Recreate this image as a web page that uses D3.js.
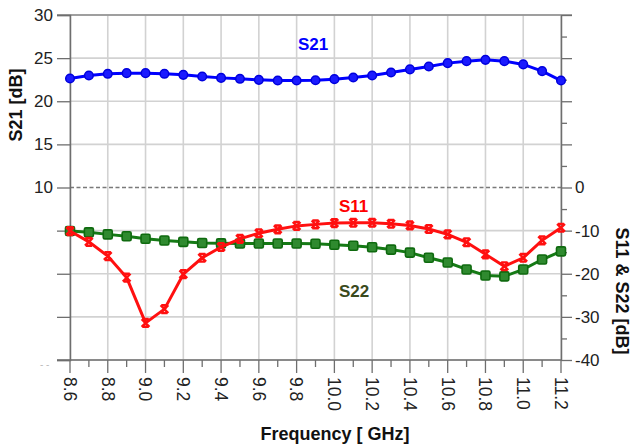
<!DOCTYPE html>
<html>
<head>
<meta charset="utf-8">
<script src="https://cdn.jsdelivr.net/npm/d3@7"></script>
<style>
  html, body { margin: 0; padding: 0; background: #fff; }
  svg { display: block; font-family: "Liberation Sans", Arial, sans-serif; }
</style>
</head>
<body>
<svg id="chart" width="631" height="448"></svg>
<script>
const freq = [8.6,8.7,8.8,8.9,9.0,9.1,9.2,9.3,9.4,9.5,9.6,9.7,9.8,9.9,10.0,10.1,10.2,10.3,10.4,10.5,10.6,10.7,10.8,10.9,11.0,11.1,11.2];
const s21 = [22.64,22.98,23.18,23.26,23.26,23.18,23.06,22.87,22.71,22.6,22.48,22.4,22.4,22.44,22.56,22.75,22.98,23.33,23.69,24.03,24.42,24.65,24.8,24.65,24.27,23.49,22.4];
const s11 = [-10.1,-12.6,-15.9,-20.9,-31.4,-28.2,-20.1,-16.3,-13.8,-11.9,-10.6,-9.7,-8.9,-8.55,-8.25,-8.17,-8.17,-8.4,-8.79,-9.63,-10.87,-12.7,-15.5,-18.27,-16.3,-12.25,-9.33];
const s22 = [-10.1,-10.4,-10.87,-11.3,-11.87,-12.3,-12.6,-12.87,-12.95,-13.0,-13.0,-13.0,-13.0,-13.05,-13.26,-13.5,-13.87,-14.4,-15.1,-16.3,-17.4,-19.0,-20.4,-20.6,-19.0,-16.7,-14.8];
const xTickLabels = ["8.6","8.8","9.0","9.2","9.4","9.6","9.8","10.0","10.2","10.4","10.6","10.8","11.0","11.2"];
const leftTicks = [-10,-5,0,5,10,15,20,25,30];
const leftLabels = ["","","","","10","15","20","25","30"];
const rightTicks = [-40,-35,-30,-25,-20,-15,-10,-5,0,5,10,15,20,25,30,35,40];
const rightLabels = ["-40","","-30","","-20","","-10","","0","","","","","","","",""];

const svg = d3.select("#chart");
const L = 70, R = 561, T = 15, B = 360;
const x = d3.scaleLinear().domain([8.6, 11.2]).range([L, R]);
const yL = d3.scaleLinear().domain([-10, 30]).range([B, T]);
const yR = d3.scaleLinear().domain([-40, 40]).range([B, T]);

const axisColor = "#6e6e6e";
const gridColor = "#d2d2d2";

// grid
const grid = svg.append("g");
grid.selectAll("line.v").data(xTickLabels.map(Number)).enter().append("line")
  .attr("x1", d => x(d)).attr("x2", d => x(d)).attr("y1", T).attr("y2", B)
  .attr("stroke", gridColor).attr("stroke-width", 1.6);
grid.selectAll("line.h").data(leftTicks.filter(d => d !== 10)).enter().append("line")
  .attr("x1", L).attr("x2", R).attr("y1", d => yL(d)).attr("y2", d => yL(d))
  .attr("stroke", gridColor).attr("stroke-width", 1.6);
// dashed reference line
svg.append("line").attr("x1", L).attr("x2", R).attr("y1", yL(10)).attr("y2", yL(10))
  .attr("stroke", "#7a7a7a").attr("stroke-width", 1.5).attr("stroke-dasharray", "4,2.5");

// top frame
svg.append("line").attr("x1", 57).attr("x2", R + 11).attr("y1", T).attr("y2", T)
  .attr("stroke", "#8a8a8a").attr("stroke-width", 1.5);

// left axis
const gL = svg.append("g").attr("transform", `translate(${L},0)`)
  .call(d3.axisLeft(yL).tickValues(leftTicks).tickSize(13).tickPadding(4)
    .tickFormat((d, i) => leftLabels[i]));
gL.select(".domain").attr("stroke", axisColor).attr("stroke-width", 1.5);
gL.selectAll(".tick line").attr("stroke", axisColor).attr("stroke-width", 1.3);
gL.selectAll(".tick text").attr("fill", "#222").style("font-size", "17px");

// right axis
const gR = svg.append("g").attr("transform", `translate(${R},0)`)
  .call(d3.axisRight(yR).tickValues(rightTicks).tickSize(0).tickPadding(14)
    .tickFormat((d, i) => rightLabels[i]));
gR.select(".domain").attr("stroke", axisColor).attr("stroke-width", 1.5);
gR.selectAll(".tick").append("line").attr("x1", 0)
  .attr("x2", d => (d % 10 === 0 ? 11 : 6)).attr("stroke", axisColor).attr("stroke-width", 1.3);
gR.selectAll(".tick text").attr("fill", "#222").style("font-size", "17px");

// bottom axis
const gB = svg.append("g").attr("transform", `translate(0,${B})`);
gB.append("line").attr("x1", 57).attr("x2", R).attr("y1", 0).attr("y2", 0)
  .attr("stroke", axisColor).attr("stroke-width", 1.5);
gB.selectAll("line.minor").data(freq).enter().append("line")
  .attr("x1", d => x(d)).attr("x2", d => x(d)).attr("y1", 0)
  .attr("y2", (d, i) => (i % 2 === 0 ? 13 : 7))
  .attr("stroke", axisColor).attr("stroke-width", 1.3);
gB.selectAll("text").data(xTickLabels).enter().append("text")
  .attr("transform", d => `translate(${x(+d)},17) rotate(90)`)
  .attr("text-anchor", "start").attr("dy", "0.35em")
  .attr("fill", "#222").style("font-size", "17.5px").text(d => d);

// faint artifact at bottom left
svg.append("text").attr("x", 40).attr("y", 368).attr("fill", "#bbb")
  .style("font-size", "10px").text("- -");

// lines
const lineL = d3.line().x((d, i) => x(freq[i])).y(d => yL(d));
const lineR = d3.line().x((d, i) => x(freq[i])).y(d => yR(d));

svg.append("path").datum(s22).attr("d", lineR).attr("fill", "none")
  .attr("stroke", "#157a15").attr("stroke-width", 3);
svg.selectAll("rect.s22").data(s22).enter().append("rect")
  .attr("x", (d, i) => x(freq[i]) - 4.5).attr("y", d => yR(d) - 4.5)
  .attr("width", 9).attr("height", 9).attr("rx", 1.5)
  .attr("fill", "#2f8a2f").attr("stroke", "#0f6a0f").attr("stroke-width", 1.6);

svg.append("path").datum(s11).attr("d", lineR).attr("fill", "none")
  .attr("stroke", "#ff1010").attr("stroke-width", 3);
const crossSerif = {
  draw(ctx, size) {
    const r = Math.sqrt(size) / 2;
    ctx.moveTo(-r, -r); ctx.lineTo(r, r);
    ctx.moveTo(r, -r); ctx.lineTo(-r, r);
    ctx.moveTo(-r * 0.8, -r); ctx.lineTo(r * 0.8, -r);
    ctx.moveTo(-r * 0.8, r); ctx.lineTo(r * 0.8, r);
  }
};
svg.selectAll("path.s11").data(s11).enter().append("path")
  .attr("d", d3.symbol().type(crossSerif).size(60))
  .attr("transform", (d, i) => `translate(${x(freq[i])},${yR(d)})`)
  .attr("fill", "none").attr("stroke", "#ff1010").attr("stroke-width", 2.4);

svg.append("path").datum(s21).attr("d", lineL).attr("fill", "none")
  .attr("stroke", "#0000ff").attr("stroke-width", 3);
svg.selectAll("circle.s21").data(s21).enter().append("circle")
  .attr("cx", (d, i) => x(freq[i])).attr("cy", d => yL(d)).attr("r", 4.3)
  .attr("fill", "#1a1aff").attr("stroke", "#0000dd").attr("stroke-width", 1.5);

// series labels
const lab = (t, xx, yy, c) => svg.append("text").attr("x", xx).attr("y", yy)
  .attr("fill", c).style("font-size", "17px").style("font-weight", "bold").text(t);
lab("S21", 298, 50, "#0000ff");
lab("S11", 339, 212, "#ff0000");
lab("S22", 339, 297, "#3a4a1c");

// axis titles
svg.append("text").attr("transform", "translate(22,105) rotate(-90)")
  .attr("text-anchor", "middle").style("font-size", "18px").style("font-weight", "bold")
  .attr("fill", "#111").text("S21 [dB]");
svg.append("text").attr("transform", "translate(616,291) rotate(90)")
  .attr("text-anchor", "middle").style("font-size", "18px").style("font-weight", "bold")
  .attr("fill", "#111").text("S11 & S22 [dB]");
svg.append("text").attr("x", 335).attr("y", 440)
  .attr("text-anchor", "middle").style("font-size", "18px").style("font-weight", "bold")
  .attr("fill", "#111").text("Frequency [ GHz]");
</script>
</body>
</html>
